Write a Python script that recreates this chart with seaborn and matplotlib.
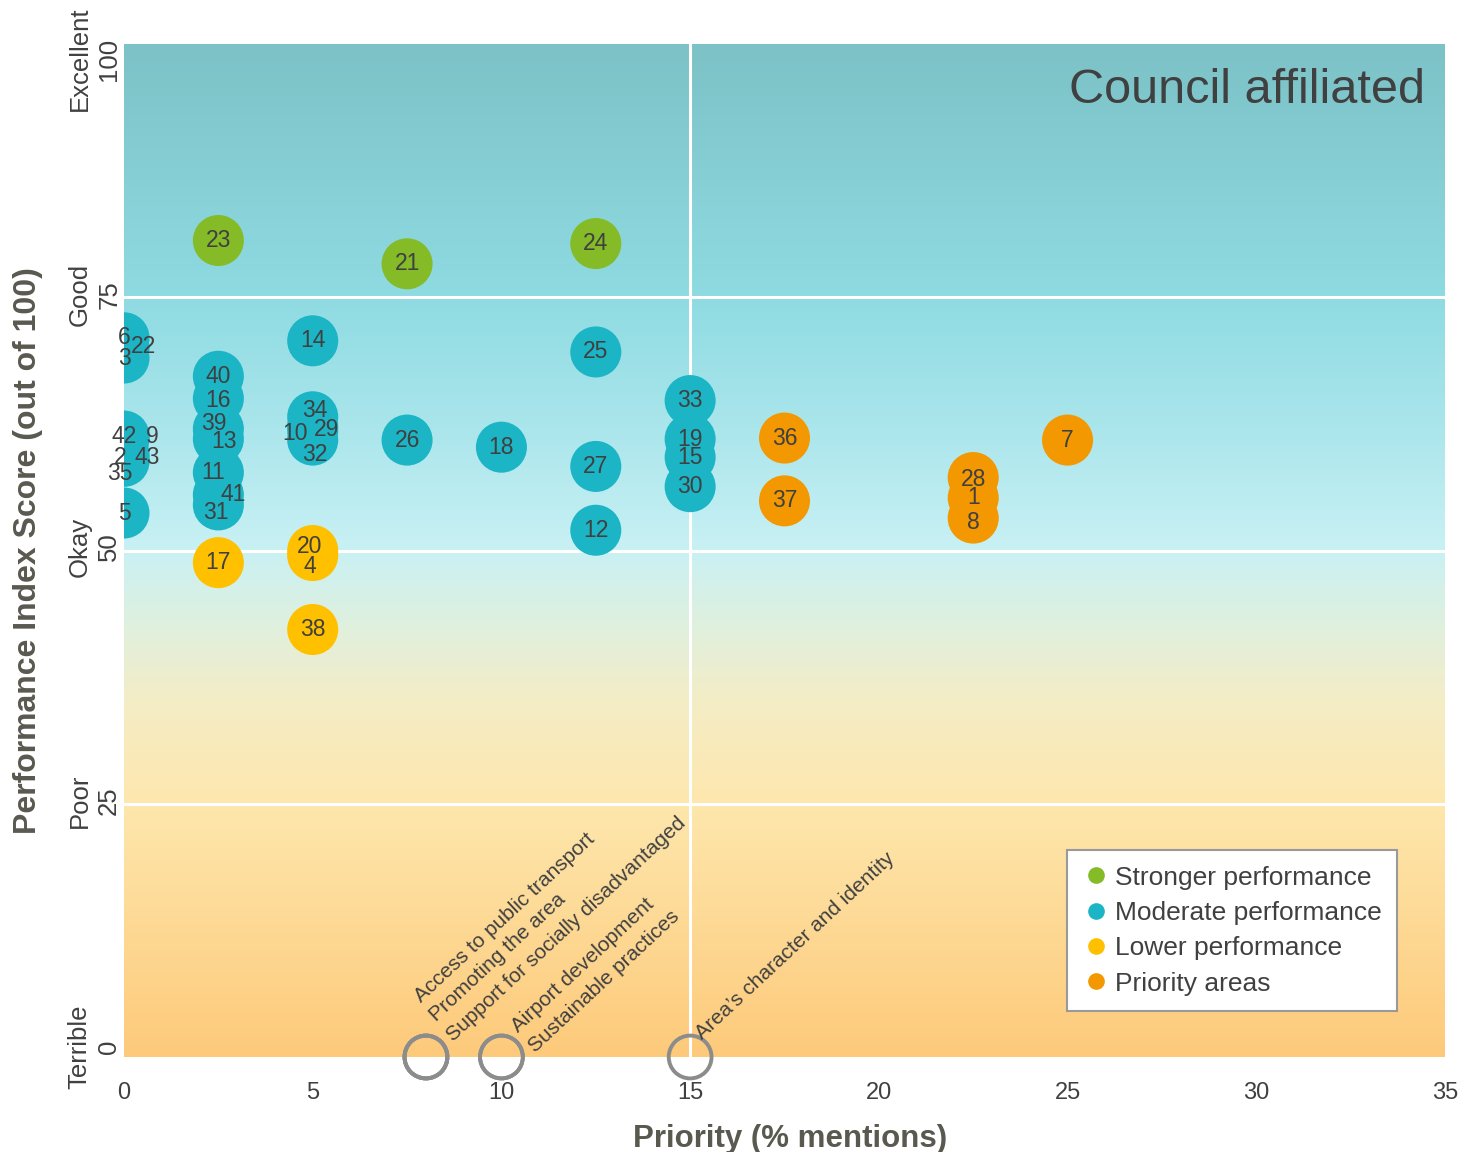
import pandas as pd
import numpy as np
import matplotlib
matplotlib.use('Agg')
import matplotlib.pyplot as plt
from matplotlib import font_manager
from matplotlib.colors import LinearSegmentedColormap
from matplotlib.lines import Line2D
from matplotlib.transforms import ScaledTranslation
import seaborn as sns

# ---- data ----
point_ids = [6, 22, 3, 42, 9, 2, 43, 35, 5,
             23, 40, 16, 39, 13, 11, 41, 31, 17,
             14, 34, 29, 10, 32, 20, 4, 38,
             21, 26, 18,
             24, 25, 27, 12,
             33, 19, 15, 30,
             36, 37, 28, 1, 8, 7]
priority = [0, 0, 0, 0, 0, 0, 0, 0, 0,
            2.5, 2.5, 2.5, 2.5, 2.5, 2.5, 2.5, 2.5, 2.5,
            5, 5, 5, 5, 5, 5, 5, 5,
            7.5, 7.5, 10,
            12.5, 12.5, 12.5, 12.5,
            15, 15, 15, 15,
            17.5, 17.5, 22.5, 22.5, 22.5, 25]
score = [71.0, 70.0, 69.0, 61.3, 61.0, 59.5, 59.2, 58.8, 53.7,
         80.6, 67.2, 65.0, 62.0, 61.0, 57.7, 55.5, 54.5, 48.8,
         70.7, 63.2, 62.3, 61.8, 60.9, 50.0, 49.5, 42.2,
         78.3, 60.9, 60.2,
         80.3, 69.6, 58.3, 52.0,
         64.8, 61.0, 59.2, 56.3,
         61.1, 54.9, 57.2, 55.2, 53.2, 60.9]

stronger = [23, 21, 24]
lower = [17, 20, 4, 38]
priority_areas = [36, 37, 28, 1, 8, 7]

# topics mentioned without a score (hollow markers on the x axis)
topic_names = ["Access to public transport", "Promoting the area",
               "Support for socially disadvantaged", "Airport development",
               "Sustainable practices", "Area\u2019s character and identity"]
topic_priority = [8, 8, 8, 10, 10, 15]

group_names = ["Stronger performance", "Moderate performance",
               "Lower performance", "Priority areas"]
group_colors = ["#84bb27", "#1bb5c5", "#ffc000", "#f39800"]

y_ticks = [0, 25, 50, 75, 100]
y_words = ["Terrible", "Poor", "Okay", "Good", "Excellent"]
x_ticks = [0, 5, 10, 15, 20, 25, 30, 35]


def group_of(pid):
    if pid in stronger:
        return group_names[0]
    if pid in lower:
        return group_names[2]
    if pid in priority_areas:
        return group_names[3]
    return group_names[1]


df = pd.DataFrame({"id": point_ids, "priority": priority, "score": score})
df["group"] = df["id"].map(group_of)

# label nudges in pixels (dx right, dy up) where labels were pushed apart
nudge = {22: (19, 1), 9: (28, 3), 2: (-4, -3), 43: (23, 0), 35: (-4, -12),
         16: (0, -2), 39: (-5, 5), 13: (6, -2), 11: (-5, 0), 41: (15, 0),
         31: (-3, -8), 34: (2, 6), 29: (14, -4), 10: (-18, -3), 32: (2, -14),
         20: (-3, 4), 4: (-3, -11), 28: (0, -2), 8: (0, -4)}

topic_offsets = [(-5, 54), (10, 35), (27, 15), (17, 24), (34, 4), (12, 17)]
ytick_shift = [10, 3, 4, 3, -15]  # px, keeps end labels inside the figure

# ---- style ----
sns.set_theme(style="white")
names = {f.name for f in font_manager.fontManager.ttflist}
narrow = "Liberation Sans Narrow" if "Liberation Sans Narrow" in names else "Liberation Sans"
plt.rcParams['font.family'] = ['Liberation Sans', 'DejaVu Sans']
text_col = "#404040"
px = 72 / 100  # points per pixel

fig = plt.figure(figsize=(14.6, 11.52), dpi=100)
ax = fig.add_axes([124 / 1460, 1 - 1057 / 1152, 1321 / 1460, 1013 / 1152])

# gradient background
bg = LinearSegmentedColormap.from_list("bg", [
    (0.00, "#fdca7b"), (0.25, "#fee7ad"), (0.35, "#f4edc6"),
    (0.42, "#e1f0dc"), (0.50, "#c9f1f4"), (0.62, "#aae6ec"),
    (0.75, "#8fdbe2"), (1.00, "#7cc2c7")])
grad = np.linspace(0, 1, 256).reshape(-1, 1)
ax.imshow(grad, cmap=bg, origin="lower", extent=[0, 35, 0, 100],
          aspect="auto", zorder=0)

for yv in [25, 50, 75]:
    ax.axhline(yv, color="white", lw=2.2, zorder=1)
ax.axvline(15, color="white", lw=2.2, zorder=1)

sns.scatterplot(data=df, x="priority", y="score", hue="group",
                hue_order=group_names, palette=group_colors, s=1350,
                linewidth=0, alpha=1, legend=False, ax=ax, zorder=2)

for _, r in df.iterrows():
    dx, dy = nudge.get(r["id"], (0, 0))
    ax.annotate(str(r["id"]), (r["priority"], r["score"]),
                xytext=(dx * px, dy * px), textcoords="offset points",
                ha="center", va="center", fontsize=16.5, color=text_col,
                zorder=4)

ax.scatter(topic_priority, [0] * len(topic_priority), s=950,
           facecolors="none", edgecolors="#8c8c8c", linewidths=2.8,
           clip_on=False, zorder=3)
for name, xp, (dx, dy) in zip(topic_names, topic_priority, topic_offsets):
    ax.annotate(name, (xp, 0), xytext=(dx * px, dy * px),
                textcoords="offset points", rotation=43,
                rotation_mode="anchor", ha="left", va="baseline",
                fontsize=15, color=text_col, annotation_clip=False, zorder=4)

ax.text(0.985, 0.976, "Council affiliated", transform=ax.transAxes,
        ha="right", va="top", fontsize=35, color=text_col, zorder=5)

ax.set_xlim(0, 35)
ax.set_ylim(0, 100)
ax.set_xticks(x_ticks)
ax.set_xticklabels([str(t) for t in x_ticks], fontsize=17, color=text_col,
                   family=[narrow, 'DejaVu Sans'])
ax.set_yticks(y_ticks)
ax.set_yticklabels([f"{w}\n{t}" for w, t in zip(y_words, y_ticks)],
                   rotation=90, va="center", ha="right",
                   multialignment="center", fontsize=18.5, color=text_col,
                   linespacing=1.3, family=[narrow, 'DejaVu Sans'])
ax.tick_params(axis="x", length=0, pad=18)
ax.tick_params(axis="y", length=0, pad=2)
for lab, sh in zip(ax.get_yticklabels(), ytick_shift):
    lab.set_transform(lab.get_transform() +
                      ScaledTranslation(0, sh / 100, fig.dpi_scale_trans))
for sp in ax.spines.values():
    sp.set_visible(False)

ax.set_xlabel("Priority (% mentions)", fontsize=22.5, fontweight="bold",
              color="#595950", family=[narrow, 'DejaVu Sans'])
ax.set_ylabel("Performance Index Score (out of 100)", fontsize=23,
              fontweight="bold", color="#595950",
              family=[narrow, 'DejaVu Sans'])
ax.xaxis.set_label_coords(0.504, -0.066)
ax.yaxis.set_label_coords(-0.061, 0.5)

handles = [Line2D([0], [0], marker="o", linestyle="none", markersize=12,
                  markerfacecolor=c, markeredgewidth=0, label=n)
           for n, c in zip(group_names, group_colors)]
leg = ax.legend(handles=handles, loc="lower right",
                bbox_to_anchor=(0.964, 0.045), fontsize=19, frameon=True,
                fancybox=False, framealpha=1, edgecolor="#999999",
                labelspacing=0.43, handletextpad=0.2, handlelength=1.0,
                borderpad=0.6, borderaxespad=0)
leg.get_frame().set_linewidth(1.5)
for t in leg.get_texts():
    t.set_color(text_col)
leg.set_zorder(6)

fig.savefig("out.png", dpi=100)
